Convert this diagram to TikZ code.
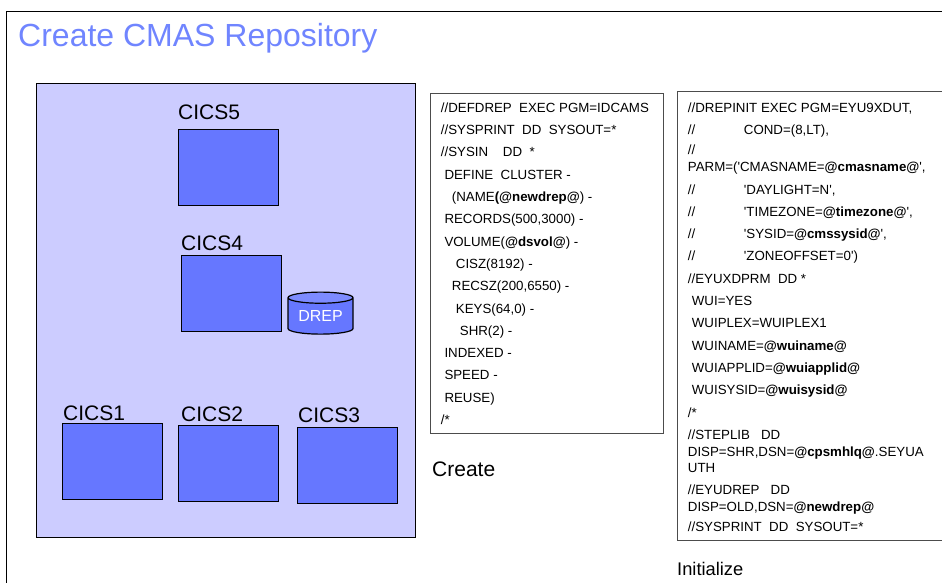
\documentclass[tikz,border=0pt]{standalone}
\usepackage{fontspec}
\setmainfont{Liberation Sans}
\newfontfamily\codefont{Liberation Sans}
\definecolor{cmasPanel}{RGB}{204, 204, 255}
\definecolor{cmasBlue}{RGB}{102, 119, 255}
\definecolor{cmasTitle}{RGB}{112, 133, 255}
\usetikzlibrary{
  shapes.geometric,
  positioning
}
\newcommand{\ind}[1]{\hspace*{#1pt}}
\tikzset{
  % Kutu stilleri
  cicsbox/.style={
    draw=black,
    fill=cmasBlue,
    line width=1.3pt,
    minimum width=100pt,
    minimum height=76pt,
    inner sep=0pt,
    anchor=north west
  },
  cicslabel/.style={
    font=\fontsize{21}{24}\selectfont,
    inner sep=0pt,
    anchor=base west
  },
  codebox/.style={
    draw=black!70,
    fill=white,
    line width=1pt,
    inner sep=0pt,
    anchor=north west
  },
  codetext/.style={
    font=\codefont\fontsize{13.3}{22.3}\selectfont,
    align=left,
    inner sep=0pt,
    anchor=north west
  },
  captext/.style={
    inner sep=0pt,
    anchor=base west
  },
  % Silindir
  database/.style={
    cylinder,
    cylinder uses custom fill,
    cylinder body fill=cmasBlue,
    cylinder end fill=cmasBlue!85!white,
    shape border rotate=90,
    shape aspect=0.25,
    draw=black,
    line width=1.2pt,
    minimum height=42pt,
    minimum width=65pt,
    inner sep=0pt,
    text=white,
    font=\fontsize{16}{18}\selectfont
  },
}
\begin{document}
\begin{tikzpicture}[x=1pt, y=-1pt]
  \useasboundingbox (0,0) rectangle (942,583);
  \fill[white] (0,0) rectangle (942,583);
  \draw[line width=1pt] (6.5,583) |- (942,11.5);
  \node[font=\fontsize{32}{36}\selectfont, text=cmasTitle, inner sep=0pt, anchor=base west] (title) at (18,47) {Create CMAS Repository};
  % Sol panel
  \node[draw=black, fill=cmasPanel, line width=1.2pt, minimum width=379pt, minimum height=454pt, inner sep=0pt, anchor=north west] (panel) at (36,83) {};
  \node[cicsbox] (cics5) at (178,129) {};
  \node[cicsbox] (cics4) at (181,255) {};
  \node[cicsbox] (cics1) at (62,423) {};
  \node[cicsbox] (cics2) at (178,425) {};
  \node[cicsbox] (cics3) at (297,427) {};
  \node[cicslabel] (lab5) at (178,120) {CICS5};
  \node[cicslabel] (lab4) at (181,250) {CICS4};
  \node[cicslabel] (lab1) at (63,420) {CICS1};
  \node[cicslabel] (lab2) at (181,421) {CICS2};
  \node[cicslabel] (lab3) at (298,422) {CICS3};
  \node[database] (drep) at (320.5,316.2) {DREP};
  % Create
  \node[codebox, minimum width=233pt, minimum height=340pt] (createbox) at (430,93) {};
  \node[codetext] (createtext) at (440.7,102.5) {%
    //DEFDREP\ \ EXEC PGM=IDCAMS\\
    //SYSPRINT\ \ DD\ \ SYSOUT=*\\
    //SYSIN\ \ \ \ DD\ \ *\\
    \ind{3.6}DEFINE\ \ CLUSTER -\\
    \ind{11}(NAME{\bfseries(@newdrep@}) -\\
    \ind{3.6}RECORDS(500,3000) -\\
    \ind{3.6}VOLUME({\bfseries @dsvol@}) -\\
    \ind{15}CISZ(8192) -\\
    \ind{11}RECSZ(200,6550) -\\
    \ind{15}KEYS(64,0) -\\
    \ind{19}SHR(2) -\\
    \ind{3.6}INDEXED -\\
    \ind{3.6}SPEED -\\
    \ind{3.6}REUSE)\\
    /*};
  \node[captext, font=\fontsize{21}{24}\selectfont] (createcap) at (432,476) {Create};
  % Initialize
  \node[codebox, minimum width=270pt, minimum height=449pt] (initbox) at (677,91) {};
  \node[codetext] (inittext) at (687.7,102.3) {%
    //DREPINIT EXEC PGM=EYU9XDUT,\\
    //\ind{48.6}COND=(8,LT),\\[-2pt]
    //\\[-5.3pt]
    PARM=('CMASNAME={\bfseries @cmasname@}',\\
    //\ind{48.6}'DAYLIGHT=N',\\
    //\ind{48.6}'TIMEZONE={\bfseries @timezone@}',\\
    //\ind{48.6}'SYSID={\bfseries @cmssysid@}',\\
    //\ind{48.6}'ZONEOFFSET=0')\\
    //EYUXDPRM\ \ DD *\\
    \ind{4}WUI=YES\\
    \ind{4}WUIPLEX=WUIPLEX1\\
    \ind{4}WUINAME={\bfseries @wuiname@}\\
    \ind{4}WUIAPPLID={\bfseries @wuiapplid@}\\
    \ind{4}WUISYSID={\bfseries @wuisysid@}\\
    /*\\
    //STEPLIB\ \ \ DD\\[-5pt]
    DISP=SHR,DSN={\bfseries @cpsmhlq@}.SEYUA\\[-6.6pt]
    UTH\\
    //EYUDREP\ \ \ DD\\[-5.6pt]
    DISP=OLD,DSN={\bfseries @newdrep@}\\[-2pt]
    //SYSPRINT\ \ DD\ \ SYSOUT=*};
  \node[captext, font=\fontsize{18.3}{22}\selectfont] (initcap) at (677,575) {Initialize};
\end{tikzpicture}
\end{document}
